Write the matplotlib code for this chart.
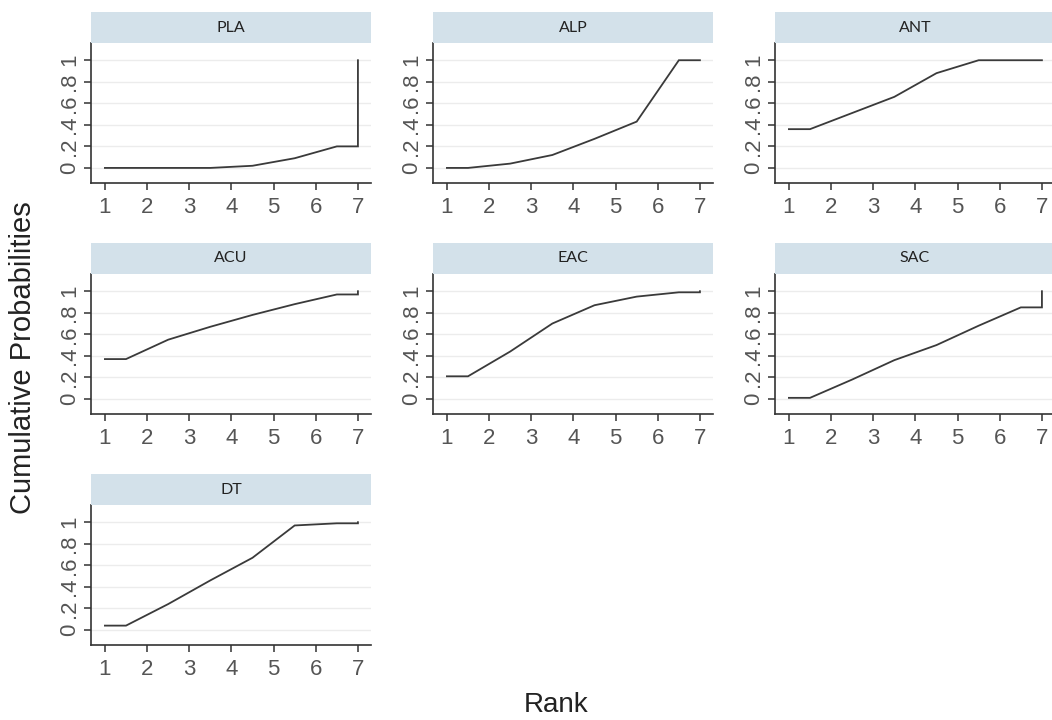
#!/usr/bin/env python3
"""Cumulative ranking probability panels (SUCRA style), one panel per treatment."""

import matplotlib

matplotlib.use("Agg")
import matplotlib.pyplot as plt
from matplotlib.patches import Rectangle

RANKS = [1, 2, 3, 4, 5, 6, 7]
TREATMENTS = ["PLA", "ALP", "ANT", "ACU", "EAC", "SAC", "DT"]

# cumulative probability of being ranked <= r
PLA = [0.0, 0.0, 0.0, 0.02, 0.09, 0.20, 1.0]
ALP = [0.0, 0.04, 0.12, 0.27, 0.43, 1.0, 1.0]
ANT = [0.36, 0.51, 0.66, 0.88, 1.0, 1.0, 1.0]
ACU = [0.37, 0.55, 0.67, 0.78, 0.88, 0.97, 1.0]
EAC = [0.21, 0.44, 0.70, 0.87, 0.95, 0.99, 1.0]
SAC = [0.01, 0.18, 0.36, 0.50, 0.68, 0.85, 1.0]
DT = [0.04, 0.24, 0.46, 0.67, 0.97, 0.99, 1.0]

CUMULATIVE = [PLA, ALP, ANT, ACU, EAC, SAC, DT]

Y_TICKS = [0, 0.2, 0.4, 0.6, 0.8, 1.0]
Y_TICK_LABELS = ["0", ".2", ".4", ".6", ".8", "1"]

FIG_W, FIG_H = 1052, 720
COL_LEFT = [91, 433, 775]
ROW_TOP = [43, 274, 505]
PANEL_W, PANEL_H, STRIP_H = 280, 140, 31

STRIP_COLOR = "#d3e1ea"
LINE_COLOR = "#3a3a3a"
TEXT_COLOR = "#555555"
FONT = ["Liberation Sans", "DejaVu Sans"]


def step_path(values):
    # flat to the first half-rank, joined through half-ranks, flat to the last rank, then up to the final value
    xs = [RANKS[0]] + [r + 0.5 for r in RANKS[:-1]] + [RANKS[-1], RANKS[-1]]
    ys = [values[0]] + list(values[:-1]) + [values[-2], values[-1]]
    return xs, ys


def draw_panel(fig, index, name, values):
    row, col = divmod(index, 3)
    left = COL_LEFT[col] / FIG_W
    bottom = 1 - (ROW_TOP[row] + PANEL_H) / FIG_H
    ax = fig.add_axes([left, bottom, PANEL_W / FIG_W, PANEL_H / FIG_H])

    xs, ys = step_path(values)
    ax.plot(xs, ys, color=LINE_COLOR, linewidth=1.3, solid_joinstyle="miter")

    ax.set_xlim(0.67, 7.31)
    ax.set_ylim(-0.14, 1.16)
    ax.set_xticks(RANKS)
    ax.set_xticklabels([str(r) for r in RANKS])
    ax.set_yticks(Y_TICKS)
    ax.set_yticklabels(Y_TICK_LABELS, rotation=90, va="center")
    ax.grid(axis="y", color="#ececec", linewidth=1.0)
    ax.set_axisbelow(True)

    for side in ("top", "right"):
        ax.spines[side].set_visible(False)
    for side in ("left", "bottom"):
        ax.spines[side].set_color("#333333")
        ax.spines[side].set_linewidth(1.2)
    ax.tick_params(direction="out", length=5, width=1.1, color="#333333",
                   labelsize=16, labelcolor=TEXT_COLOR)
    ax.tick_params(axis="x", pad=5)
    ax.tick_params(axis="y", pad=3)
    for label in ax.get_xticklabels() + ax.get_yticklabels():
        label.set_family(FONT)

    strip_bottom = 1 - ROW_TOP[row] / FIG_H
    fig.patches.append(Rectangle((left, strip_bottom), PANEL_W / FIG_W, STRIP_H / FIG_H,
                                 transform=fig.transFigure, facecolor=STRIP_COLOR,
                                 edgecolor="none"))
    fig.text(left + PANEL_W / FIG_W / 2, strip_bottom + STRIP_H / FIG_H / 2, name,
             ha="center", va="center", fontsize=11.5, color="#222222",
             family=["Lato", "DejaVu Sans"])


def main():
    fig = plt.figure(figsize=(FIG_W / 100, FIG_H / 100), dpi=100)
    fig.patch.set_facecolor("white")

    for index, (name, values) in enumerate(zip(TREATMENTS, CUMULATIVE)):
        draw_panel(fig, index, name, values)

    fig.text(23 / FIG_W, 1 - 358 / FIG_H, "Cumulative Probabilities", rotation=90,
             ha="center", va="center", fontsize=21, color="#222222", family=FONT)
    fig.text(556 / FIG_W, 1 - 705 / FIG_H, "Rank", ha="center", va="center",
             fontsize=20, color="#222222", family=FONT)

    fig.savefig("out.png", dpi=100)
    plt.close(fig)


if __name__ == "__main__":
    main()
